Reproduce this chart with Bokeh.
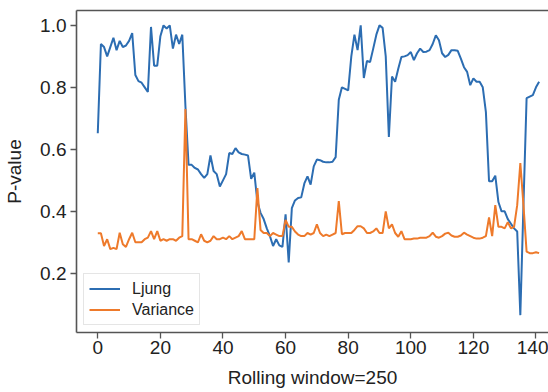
from bokeh.plotting import figure
from bokeh.models import Range1d, LinearAxis, Legend, LegendItem, FixedTicker, PrintfTickFormatter
from bokeh.embed import file_html
from bokeh.resources import INLINE

window = list(range(142))

ljung = [
    0.652, 0.94, 0.93, 0.90, 0.93, 0.96, 0.92, 0.95, 0.93, 0.935,
    0.95, 0.975, 0.84, 0.82, 0.815, 0.80, 0.785, 0.995, 0.87, 0.87,
    0.965, 1.0, 0.99, 1.0, 0.925, 0.97, 0.94, 0.97, 0.74, 0.55,
    0.55, 0.54, 0.535, 0.52, 0.508, 0.52, 0.58, 0.53, 0.52, 0.48,
    0.50, 0.52, 0.588, 0.585, 0.604, 0.59, 0.585, 0.583, 0.58, 0.505,
    0.525, 0.43, 0.395, 0.375, 0.345, 0.32, 0.288, 0.31, 0.29, 0.285,
    0.39, 0.235, 0.41, 0.435, 0.443, 0.445, 0.49, 0.513, 0.486, 0.545,
    0.567, 0.565, 0.56, 0.558, 0.558, 0.56, 0.575, 0.76, 0.80, 0.795,
    0.79, 0.90, 0.97, 0.92, 1.0, 0.83, 0.885, 0.882, 0.925, 0.97,
    1.0, 0.992, 0.90, 0.64, 0.835, 0.818, 0.86, 0.898, 0.90, 0.904,
    0.914, 0.888, 0.91, 0.925, 0.914, 0.915, 0.92, 0.94, 0.968, 0.952,
    0.91, 0.898, 0.905, 0.92, 0.92, 0.918, 0.893, 0.865, 0.85, 0.807,
    0.829, 0.818, 0.818, 0.80, 0.72, 0.497, 0.497, 0.515, 0.43, 0.40,
    0.40, 0.375, 0.36, 0.345, 0.335, 0.065, 0.42, 0.765, 0.77, 0.775,
    0.80, 0.818,
]

variance = [
    0.329, 0.329, 0.288, 0.31, 0.278, 0.282, 0.278, 0.331, 0.294, 0.285,
    0.31, 0.331, 0.30, 0.30, 0.30, 0.31, 0.315, 0.336, 0.31, 0.336,
    0.305, 0.31, 0.305, 0.31, 0.31, 0.305, 0.315, 0.32, 0.73, 0.31,
    0.31, 0.305, 0.30, 0.326, 0.305, 0.30, 0.305, 0.32, 0.31, 0.31,
    0.315, 0.31, 0.32, 0.31, 0.315, 0.32, 0.336, 0.31, 0.31, 0.31,
    0.31, 0.475, 0.34, 0.33, 0.33, 0.32, 0.33, 0.325, 0.32, 0.32,
    0.372, 0.35, 0.35, 0.335, 0.325, 0.32, 0.32, 0.33, 0.325, 0.33,
    0.358, 0.33, 0.32, 0.325, 0.32, 0.325, 0.33, 0.433, 0.326, 0.33,
    0.33, 0.33, 0.34, 0.352, 0.352, 0.345, 0.33, 0.33, 0.335, 0.345,
    0.33, 0.33, 0.40, 0.345, 0.358, 0.33, 0.318, 0.336, 0.31, 0.31,
    0.31, 0.312, 0.312, 0.315, 0.315, 0.315, 0.32, 0.331, 0.318, 0.315,
    0.32, 0.328, 0.331, 0.322, 0.318, 0.318, 0.322, 0.331, 0.325, 0.32,
    0.315, 0.312, 0.312, 0.315, 0.32, 0.38, 0.32, 0.42, 0.35, 0.35,
    0.345, 0.365, 0.345, 0.35, 0.42, 0.556, 0.42, 0.27, 0.265, 0.265,
    0.268, 0.265,
]

x_ticks = [0, 20, 40, 60, 80, 100, 120, 140]
y_ticks = [0.2, 0.4, 0.6, 0.8, 1.0]

FONT = "Liberation Sans"
SPINE = "#555555"
TEXT = "#222222"

p = figure(width=548, height=392, output_backend="svg", toolbar_location=None,
           x_range=Range1d(-6.8, 144.0), y_range=Range1d(0.009, 1.048),
           min_border_left=76, min_border_right=0, min_border_top=10,
           min_border_bottom=60)
p.grid.visible = False
p.outline_line_color = None
p.background_fill_color = "white"
p.border_fill_color = "white"

r1 = p.line(window, ljung, line_color="#2c6db2", line_width=2)
r2 = p.line(window, variance, line_color="#ee7a2b", line_width=2)

for ax in (p.xaxis[0], p.yaxis[0]):
    ax.axis_line_color = SPINE
    ax.axis_line_width = 1.6
    ax.major_tick_line_color = SPINE
    ax.major_tick_line_width = 1.3
    ax.major_tick_out = 6
    ax.major_tick_in = 0
    ax.minor_tick_line_color = None
    ax.major_label_text_font = FONT
    ax.major_label_text_font_size = "19px"
    ax.major_label_text_color = TEXT
    ax.axis_label_text_font = FONT
    ax.axis_label_text_font_size = "19px"
    ax.axis_label_text_font_style = "normal"
    ax.axis_label_text_color = TEXT

p.xaxis[0].ticker = FixedTicker(ticks=x_ticks)
p.yaxis[0].ticker = FixedTicker(ticks=y_ticks)
p.yaxis[0].formatter = PrintfTickFormatter(format="%.1f")
p.xaxis[0].axis_label = "Rolling window=250"
p.yaxis[0].axis_label = "P-value"
p.xaxis[0].major_label_standoff = 2
p.yaxis[0].major_label_standoff = 4
p.xaxis[0].axis_label_standoff = 10
p.yaxis[0].axis_label_standoff = 12

top = LinearAxis(ticker=FixedTicker(ticks=[]), axis_line_color=SPINE, axis_line_width=1.6,
                 major_tick_line_color=None, minor_tick_line_color=None,
                 major_label_text_font_size="0px")
p.add_layout(top, "above")

legend = Legend(items=[LegendItem(label="Ljung", renderers=[r1]),
                       LegendItem(label="Variance", renderers=[r2])],
                location="bottom_left", label_text_font=FONT, label_text_font_size="16px",
                label_text_color=TEXT, glyph_width=31, glyph_height=19, label_height=19,
                label_standoff=12, padding=5, spacing=2, margin=7,
                border_line_color="#cccccc", border_line_width=1.2,
                background_fill_alpha=0.85)
p.add_layout(legend)

open("out.html", "w").write(file_html(p, INLINE))
